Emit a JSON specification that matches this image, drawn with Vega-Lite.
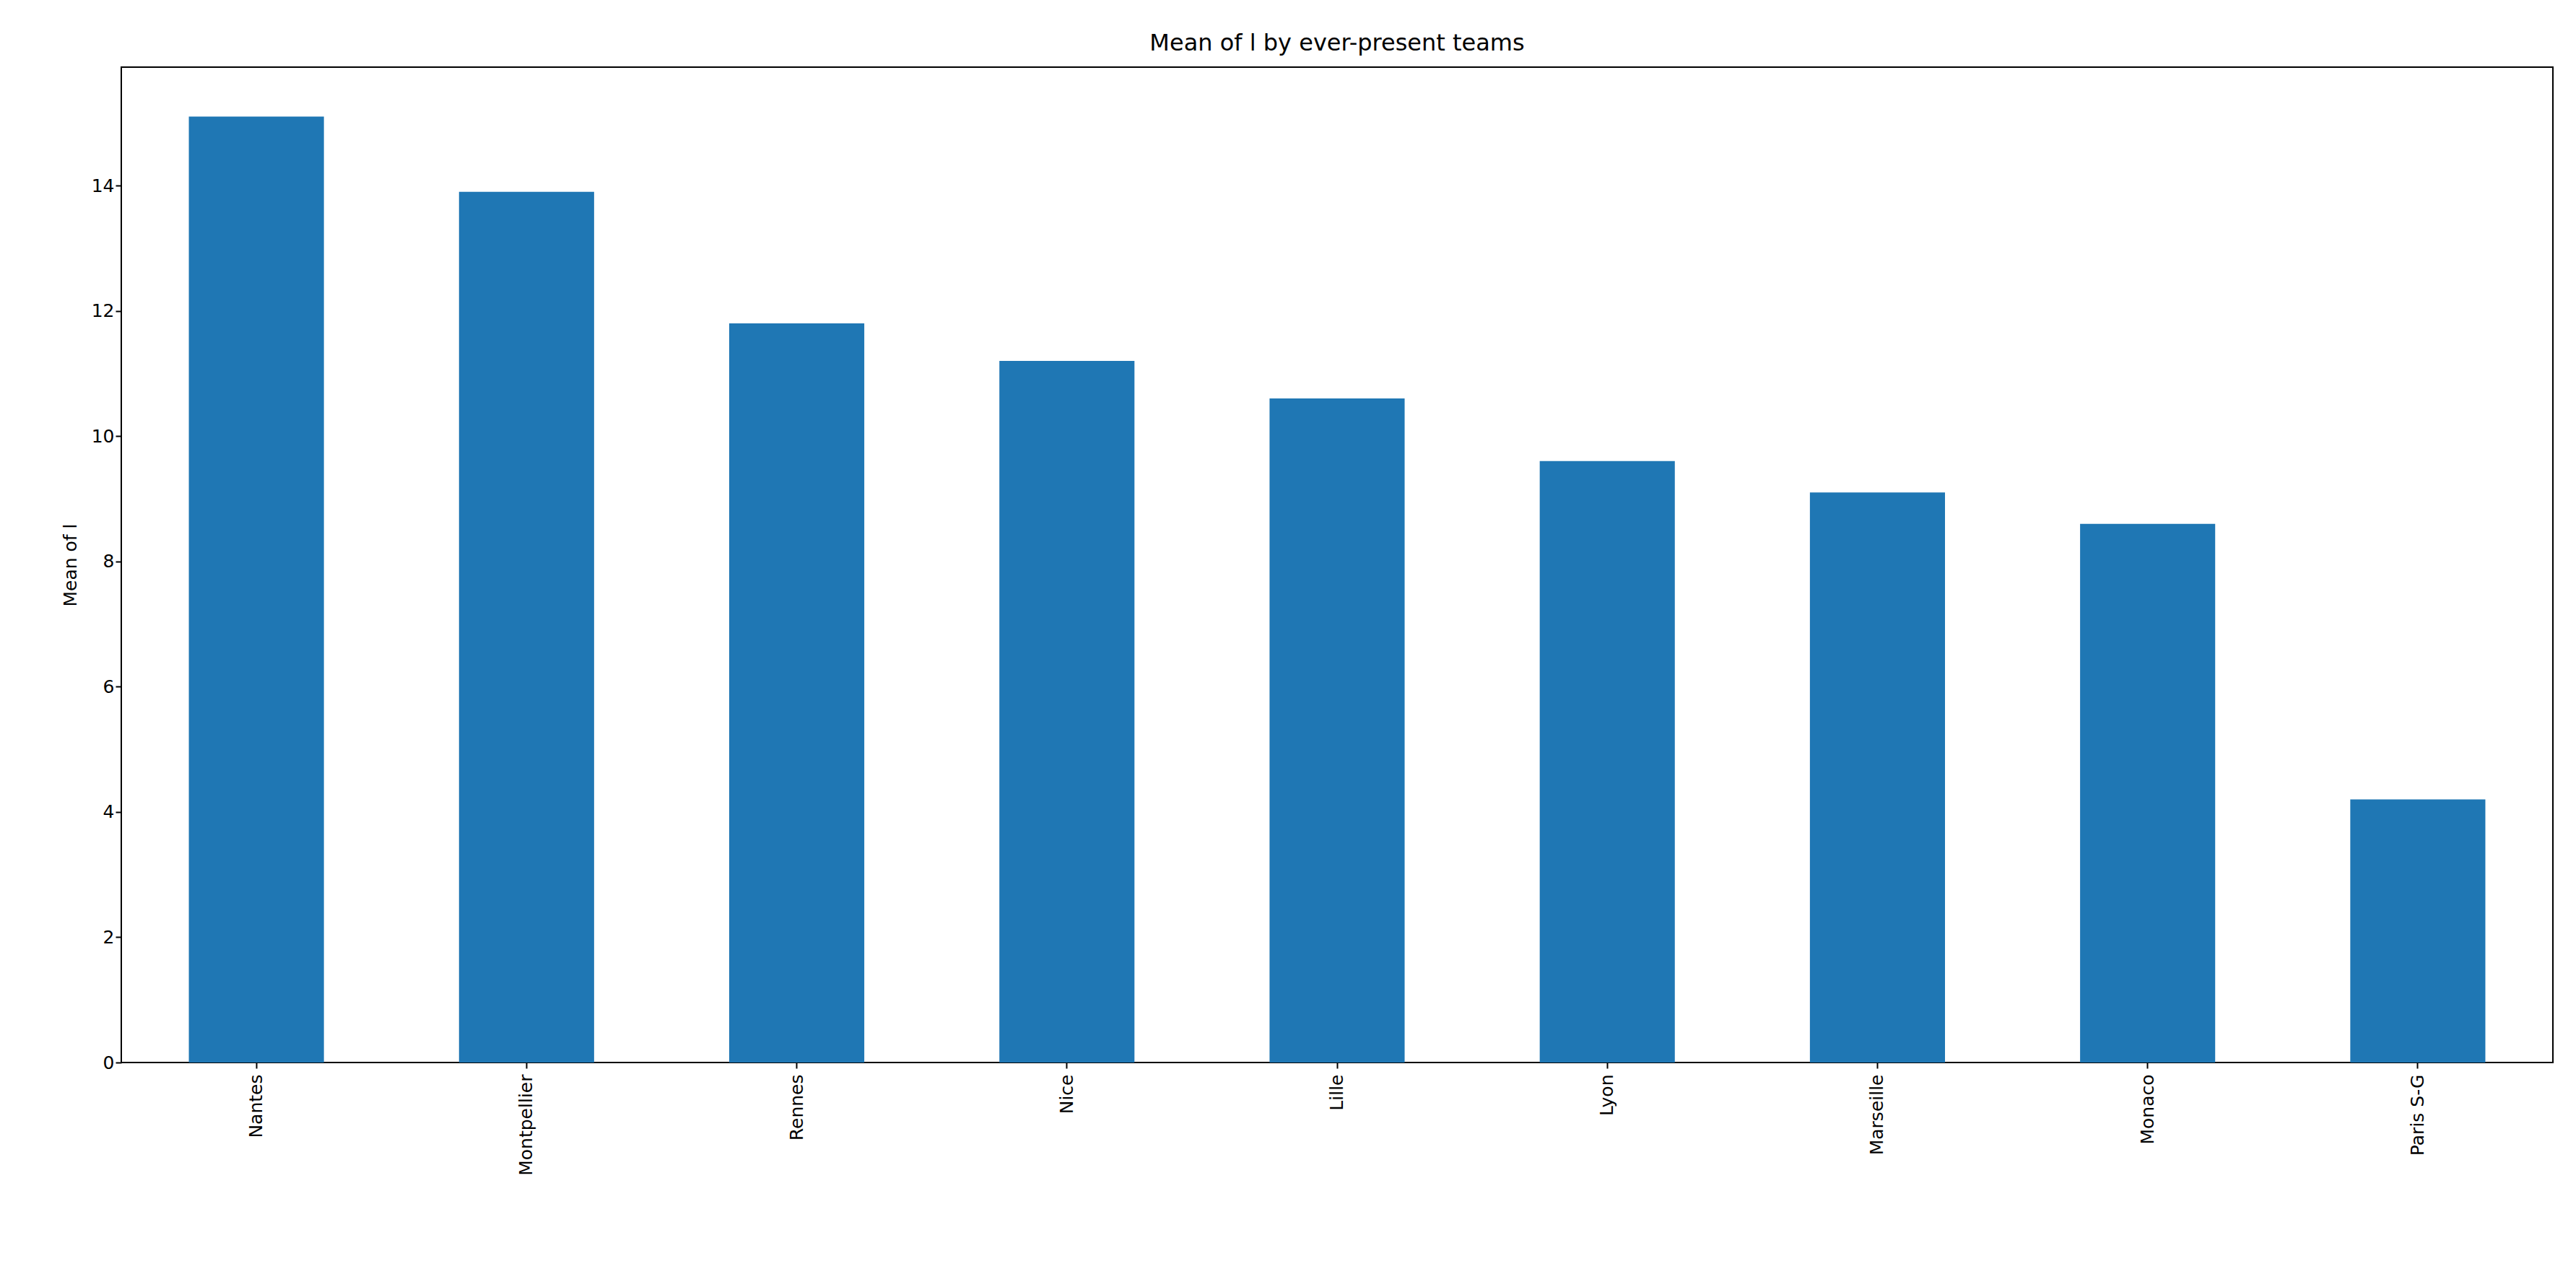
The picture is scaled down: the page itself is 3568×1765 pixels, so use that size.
{
  "$schema": "https://vega.github.io/schema/vega-lite/v6.json",
  "width": 3368,
  "height": 1379,
  "autosize": "none",
  "padding": {"left": 168, "top": 93, "right": 32, "bottom": 293},
  "background": "white",
  "title": {"text": "Mean of l by ever-present teams", "font": "DejaVu Sans", "fontSize": 32, "fontWeight": "normal", "offset": 16},
  "data": {"values": [
    {"team": "Nantes", "v": 15.1},
    {"team": "Montpellier", "v": 13.9},
    {"team": "Rennes", "v": 11.8},
    {"team": "Nice", "v": 11.2},
    {"team": "Lille", "v": 10.6},
    {"team": "Lyon", "v": 9.6},
    {"team": "Marseille", "v": 9.1},
    {"team": "Monaco", "v": 8.6},
    {"team": "Paris S-G", "v": 4.2}
  ]},
  "mark": {"type": "bar", "color": "#1f77b4"},
  "encoding": {
    "x": {"field": "team", "type": "nominal", "sort": null, "title": null,
      "scale": {"paddingInner": 0.5, "paddingOuter": 0.25},
      "axis": {"labelAngle": -90, "labelFont": "DejaVu Sans", "labelFontSize": 25, "labelColor": "black", "tickColor": "black", "tickSize": 8, "tickWidth": 2, "domain": false, "labelPadding": 8}},
    "y": {"field": "v", "type": "quantitative", "title": "Mean of l",
      "scale": {"domain": [0, 15.89], "nice": false},
      "axis": {"values": [0, 2, 4, 6, 8, 10, 12, 14], "grid": false, "domain": false, "labelFont": "DejaVu Sans", "labelFontSize": 25, "labelColor": "black", "tickColor": "black", "tickSize": 8, "tickWidth": 2, "titleFont": "DejaVu Sans", "titleFontSize": 25, "titleFontWeight": "normal", "titlePadding": 16}}
  },
  "config": {"view": {"stroke": "black", "strokeWidth": 2}}
}
